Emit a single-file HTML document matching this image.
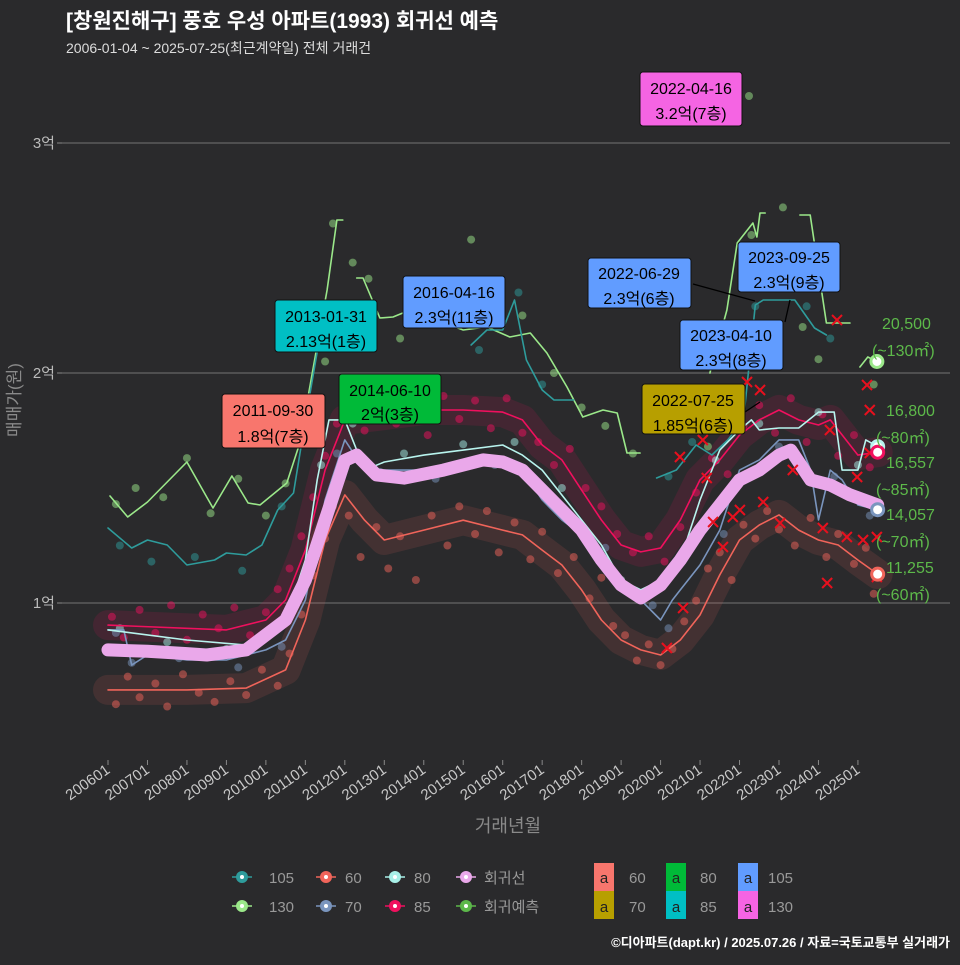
<!DOCTYPE html>
<html><head><meta charset="utf-8">
<style>
body{margin:0;background:#2a2a2c;}
svg text{font-family:"Liberation Sans","Noto Sans CJK KR",sans-serif;}
</style></head>
<body>
<svg id="chart" width="960" height="960" xmlns="http://www.w3.org/2000/svg">
<rect width="960" height="960" fill="#2a2a2c"/>
<text x="66" y="28" font-size="21" font-weight="bold" fill="#ffffff">[창원진해구] 풍호 우성 아파트(1993) 회귀선 예측</text>
<text x="66" y="53" font-size="14" fill="#dddddd">2006-01-04 ~ 2025-07-25(최근계약일) 전체 거래건</text>
<g id="grid"></g>
<g id="bands"></g>
<g id="points"></g>
<g id="lines"></g>
<g id="xmarks"></g>
<g id="axes"></g>
<text x="20" y="400" font-size="17" fill="#8a8a8a" text-anchor="middle" transform="rotate(-90 20 400)">매매가(원)</text>
<text x="508" y="832" font-size="18" fill="#8a8a8a" text-anchor="middle">거래년월</text>

<g font-size="16" text-anchor="middle" fill="#000">
<line x1="693" y1="284" x2="755" y2="301" stroke="#000" stroke-width="1.3"/>
<line x1="785" y1="322" x2="790" y2="300" stroke="#000" stroke-width="1.3"/>
<line x1="745" y1="412" x2="760" y2="402" stroke="#000" stroke-width="1.3"/>
<circle cx="749" cy="96" r="4" fill="#9be88a" opacity="0.5"/>
<g><rect x="640" y="72" width="102" height="54" rx="3" fill="#f564e3" stroke="#111"/><text x="691" y="94">2022-04-16</text><text x="691" y="119">3.2억(7층)</text></g>
<g><rect x="275" y="300" width="102" height="52" rx="3" fill="#00bfc4" stroke="#111"/><text x="326" y="322">2013-01-31</text><text x="326" y="347">2.13억(1층)</text></g>
<g><rect x="403" y="276" width="102" height="52" rx="3" fill="#619cff" stroke="#111"/><text x="454" y="298">2016-04-16</text><text x="454" y="323">2.3억(11층)</text></g>
<g><rect x="222" y="394" width="103" height="54" rx="3" fill="#f8766d" stroke="#111"/><text x="273" y="416">2011-09-30</text><text x="273" y="442">1.8억(7층)</text></g>
<g><rect x="339" y="374" width="102" height="50" rx="3" fill="#00ba38" stroke="#111"/><text x="390" y="396">2014-06-10</text><text x="390" y="420">2억(3층)</text></g>
<g><rect x="588" y="258" width="103" height="50" rx="3" fill="#619cff" stroke="#111"/><text x="639" y="279">2022-06-29</text><text x="639" y="304">2.3억(6층)</text></g>
<g><rect x="738" y="242" width="102" height="50" rx="3" fill="#619cff" stroke="#111"/><text x="789" y="263">2023-09-25</text><text x="789" y="288">2.3억(9층)</text></g>
<g><rect x="680" y="320" width="103" height="50" rx="3" fill="#619cff" stroke="#111"/><text x="731" y="341">2023-04-10</text><text x="731" y="366">2.3억(8층)</text></g>
<g><rect x="642" y="384" width="103" height="50" rx="3" fill="#b79f00" stroke="#111"/><text x="693" y="406">2022-07-25</text><text x="693" y="431">1.85억(6층)</text></g>
</g>

<g font-size="16" fill="#5db94a">
<text x="882" y="329">20,500</text><text x="872" y="356">(~130㎡)</text>
<text x="886" y="416">16,800</text><text x="876" y="443">(~80㎡)</text>
<text x="886" y="468">16,557</text><text x="876" y="495">(~85㎡)</text>
<text x="886" y="520">14,057</text><text x="876" y="547">(~70㎡)</text>
<text x="886" y="573">11,255</text><text x="876" y="600">(~60㎡)</text>
</g>

<g font-size="15" fill="#999">
<g id="legendSyms"></g>
<text x="269" y="883">105</text><text x="269" y="912">130</text>
<text x="345" y="883">60</text><text x="345" y="912">70</text>
<text x="414" y="883">80</text><text x="414" y="912">85</text>
<text x="484" y="883">회귀선</text><text x="484" y="912">회귀예측</text>
<rect x="594" y="863" width="20" height="28" fill="#f8766d"/><text x="604" y="883" text-anchor="middle" fill="#222">a</text><text x="629" y="883">60</text>
<rect x="594" y="891" width="20" height="28" fill="#b79f00"/><text x="604" y="912" text-anchor="middle" fill="#222">a</text><text x="629" y="912">70</text>
<rect x="666" y="863" width="20" height="28" fill="#00ba38"/><text x="676" y="883" text-anchor="middle" fill="#222">a</text><text x="700" y="883">80</text>
<rect x="666" y="891" width="20" height="28" fill="#00bfc4"/><text x="676" y="912" text-anchor="middle" fill="#222">a</text><text x="700" y="912">85</text>
<rect x="738" y="863" width="20" height="28" fill="#619cff"/><text x="748" y="883" text-anchor="middle" fill="#222">a</text><text x="768" y="883">105</text>
<rect x="738" y="891" width="20" height="28" fill="#f564e3"/><text x="748" y="912" text-anchor="middle" fill="#222">a</text><text x="768" y="912">130</text>
</g>
<text x="950" y="947" font-size="13" font-weight="bold" fill="#fff" text-anchor="end">©디아파트(dapt.kr) / 2025.07.26 / 자료=국토교통부 실거래가</text>
</svg>
<script>
const yTickValues=[10000,20000,30000];
const yTickLabels=["1억","2억","3억"];
const xTickYears=[2006,2007,2008,2009,2010,2011,2012,2013,2014,2015,2016,2017,2018,2019,2020,2021,2022,2023,2024,2025];
const xTickLabels=["200601","200701","200801","200901","201001","201101","201201","201301","201401","201501","201601","201701","201801","201901","202001","202101","202201","202301","202401","202501"];

const regT=[2006,2007,2008,2008.5,2009.5,2010.5,2011,2011.5,2012,2012.3,2012.8,2013.5,2014.5,2015.5,2016,2016.5,2017,2017.5,2018,2018.5,2019,2019.5,2020,2020.5,2021,2021.5,2022,2022.5,2023,2023.3,2023.8,2024.3,2024.8,2025.5];
const regV=[7960,7900,7800,7740,7960,9260,11000,13600,16200,16430,15570,15430,15780,16220,16130,15780,14910,14040,13170,11870,10780,10220,10780,11870,13170,14260,15350,15780,16430,16650,15350,15130,14700,14260];
const s60T=[2006,2008,2009.5,2010.5,2011,2011.5,2012,2012.5,2013,2014,2015,2016,2016.5,2017,2017.5,2018,2018.5,2019,2019.5,2020,2020.5,2021,2021.5,2022,2022.5,2023,2023.5,2024,2024.5,2025,2025.5];
const s60V=[6220,6220,6300,7090,9260,12740,14700,13600,12740,13170,13600,13170,12960,12300,11650,10570,9260,8390,7960,7740,8390,9480,11220,12740,13390,13830,13170,12740,12520,11870,11255];
const s85T=[2006,2009,2010,2010.5,2011,2011.5,2012,2013,2014,2015,2016,2016.5,2017,2017.5,2018,2018.5,2019,2019.5,2020,2020.5,2021,2021.5,2022,2022.5,2023,2023.5,2024,2024.3,2024.8,2025,2025.5];
const s85V=[9040,8830,9260,10130,12300,15780,17960,18170,18390,18390,18300,17960,16870,16220,14910,13610,12520,12220,12390,13610,15350,16220,17300,17960,18390,17960,17740,17960,16870,16430,16557];
const s80T=[2006,2008,2009.5,2010.5,2011,2011.3,2011.6,2012,2012.5,2013,2014,2015,2016,2016.5,2017,2018,2018.5,2019,2019.5,2020,2020.5,2021,2021.5,2022,2022.3,2022.5,2023,2023.5,2024,2024.4,2024.6,2025,2025.2,2025.5];
const s80V=[8830,8390,8170,9260,11870,15350,17960,17960,15780,16130,16430,16650,16870,16430,15780,13610,12520,10990,10570,10990,11870,14480,16650,17520,17960,17520,17610,17610,18300,18300,15780,15780,17090,16800];
const s70T=[2006,2006.4,2006.6,2007,2008,2009,2010,2010.5,2011,2011.5,2012,2012.5,2013,2014,2015,2016,2016.5,2017,2017.5,2018,2018.5,2019,2019.5,2020,2020.3,2020.5,2021,2021.5,2022,2022.5,2023,2023.5,2023.8,2024,2024.3,2024.6,2025,2025.5];
const s70V=[8830,8830,7300,7740,7520,7520,7960,8390,10130,14480,17090,15780,15780,15780,16220,16220,15780,14480,13610,12960,11870,10780,10130,9260,10130,10570,11650,13170,15780,16220,17090,17090,15780,13610,15780,15350,14260,14057];
const s105T=[2006,2006.6,2007,2007.5,2008,2008.7,2009,2009.5,2009.9,2010.3,2010.7,2011,2011.3,2012,2015.2,2015.6,2016,2016.3,2016.6,2017,2017.3,2017.8,2019,2019.9,2020.4,2020.9,2021.3,2021.7,2022.1,2022.4,2022.6,2023.4,2023.9,2024.2];
const s105V=[13261,12391,12739,12522,11652,11870,12174,12087,12522,14043,14783,17957,20913,null,21217,21870,21870,23174,20565,19261,18826,18826,null,15435,15783,16870,16435,17087,17957,22957,23174,23174,21957,21652];
const s130T=[2006.05,2006.5,2007,2008,2008.5,2008.66,2009.14,2009.55,2009.85,2010.53,2010.86,2011.55,2011.8,2011.95,2012.1,2012.3,2012.46,2012.89,2013.22,2013.47,2014.3,2015,2015.6,2016.18,2016.7,2017.12,2017.63,2018.03,2018.54,2018.9,2019.15,2019.48,2020,2021.25,2021.68,2021.94,2022.34,2022.44,2022.52,2022.65,2023,2023.53,2023.79,2024.2,2024.8,2025,2025.05,2025.25,2025.48];
const s130V=[14652,13739,14391,16131,14609,14130,15522,14348,14261,15217,16957,23609,26652,26652,null,24130,24130,22391,22435,22609,22304,21870,22000,21565,21739,20870,19391,18087,18391,18261,16522,16522,null,20000,22739,25652,26522,25913,26957,26957,null,26870,26870,22174,22174,null,20261,20696,20500];

const p60=[[2006.2,5600],[2006.5,6800],[2006.8,5900],[2007.2,6500],[2007.5,5500],[2007.9,6900],[2008.3,6100],[2008.7,5700],[2009.1,6600],[2009.5,6000],[2009.9,7100],[2010.3,6400],[2010.6,7800],[2010.9,9500],[2011.2,11200],[2011.5,12800],[2011.7,14200],[2012.1,13800],[2012.4,12000],[2012.8,13300],[2013.1,11500],[2013.4,12900],[2013.8,11000],[2014.2,13800],[2014.6,12500],[2014.9,14200],[2015.3,13000],[2015.6,14000],[2015.9,12200],[2016.3,13500],[2016.7,11900],[2017.0,13100],[2017.4,11300],[2017.8,12000],[2018.2,10200],[2018.5,11100],[2018.8,9000],[2019.1,8600],[2019.4,7500],[2019.7,8200],[2020.0,7300],[2020.3,8000],[2020.6,9200],[2020.9,10100],[2021.2,11500],[2021.5,12200],[2021.8,11000],[2022.1,13400],[2022.4,12800],[2022.7,14000],[2023.0,13200],[2023.4,12500],[2023.8,13700],[2024.2,12000],[2024.5,13000],[2024.9,11700],[2025.2,12400],[2025.4,10400]];
const p85=[[2006.1,9400],[2006.4,8500],[2006.8,9700],[2007.2,8700],[2007.6,9900],[2008.0,8400],[2008.4,9500],[2008.8,8900],[2009.2,9800],[2009.6,8600],[2010.0,9600],[2010.3,10600],[2010.6,11500],[2010.9,12900],[2011.2,14600],[2011.5,16400],[2011.8,17800],[2012.1,18900],[2012.5,17500],[2012.9,19200],[2013.3,17800],[2013.7,18600],[2014.1,17300],[2014.5,19000],[2014.9,18000],[2015.3,18800],[2015.7,17600],[2016.1,18900],[2016.5,17400],[2016.9,17000],[2017.3,16000],[2017.7,16700],[2018.1,15000],[2018.5,14200],[2018.9,13000],[2019.3,12200],[2019.7,12900],[2020.1,11800],[2020.5,13300],[2020.9,14800],[2021.3,16300],[2021.7,15600],[2022.1,17700],[2022.5,18600],[2022.9,17400],[2023.3,18900],[2023.7,17000],[2024.1,18200],[2024.5,16400],[2024.9,17300],[2025.3,15900]];
const p80=[[2006.3,8900],[2007.5,8300],[2009.0,8000],[2011.4,16000],[2012.2,17800],[2013.5,16500],[2015.0,16900],[2016.3,17000],[2017.5,15000],[2019.0,11000],[2021.4,16200],[2022.5,17800],[2024.0,18300],[2025.0,16000]];
const p70=[[2006.2,8700],[2006.6,7400],[2007.8,7600],[2009.3,7200],[2010.4,8100],[2011.8,16500],[2012.9,15700],[2014.3,15400],[2015.8,16000],[2017.2,14700],[2018.6,12400],[2019.8,9900],[2020.2,8900],[2021.6,13000],[2023.0,16800],[2024.4,15500],[2025.3,13800]];
const p105=[[2006.3,12500],[2007.1,11800],[2008.2,12000],[2009.4,11400],[2010.4,14200],[2011.0,17000],[2011.4,18000],[2015.4,21000],[2016.4,23500],[2017.0,19500],[2020.2,15500],[2020.8,17000],[2022.4,22900],[2023.7,22900],[2024.3,21500]];
const p130=[[2006.2,14300],[2006.7,15000],[2007.4,14600],[2008.0,16300],[2008.6,13900],[2009.3,15400],[2010.0,13800],[2010.5,15200],[2011.0,18000],[2011.5,20500],[2011.7,26500],[2012.2,24800],[2012.6,24100],[2013.4,21500],[2014.1,22600],[2014.7,24000],[2015.2,25800],[2015.8,22900],[2016.5,22500],[2017.3,20000],[2018.0,18500],[2018.6,17700],[2019.3,16500],[2020.6,17600],[2021.2,16800],[2021.8,21500],[2022.3,26000],[2023.1,27200],[2023.6,22000],[2024.0,20600],[2025.4,19500]];
const predX=[[2020.49,16348],[2021.07,17087],[2021.17,15435],[2022.19,19609],[2022.52,19261],[2021.33,13522],[2021.83,13739],[2022.01,14043],[2021.58,12435],[2020.57,9783],[2020.16,8043],[2022.6,14391],[2023.35,15783],[2024.29,17522],[2024.11,13261],[2024.72,12870],[2025.13,12739],[2025.48,12870],[2025.3,16522],[2025.3,18391],[2025.23,19479],[2024.47,22304],[2024.22,10870],[2025.48,11130],[2023.03,13478],[2024.98,15478]];

const NS="http://www.w3.org/2000/svg";
function X(t){return 108+(t-2006)*39.47;}
function Y(v){return 603-(v-10000)*0.023;}
function mk(tag,attrs,parent){const e=document.createElementNS(NS,tag);for(const k in attrs)e.setAttribute(k,attrs[k]);parent.appendChild(e);return e;}
const grid=document.getElementById('grid'),axes=document.getElementById('axes');
yTickValues.forEach((v,i)=>{
  const g=mk('line',{x1:62,x2:950,y1:Y(v),y2:Y(v),stroke:'#666','stroke-width':1.2},grid);
  
  
  const tk=mk('line',{x1:57,x2:62,y1:Y(v),y2:Y(v),stroke:'#888'},axes);
  
  
  const t=mk('text',{x:55,y:Y(v)+5,'font-size':15,fill:'#bbb','text-anchor':'end'},axes);
  t.textContent=yTickLabels[i];
  
  
});
xTickYears.forEach((yr,i)=>{
  const x=X(yr);
  const tk=mk('line',{x1:x,x2:x,y1:760,y2:765,stroke:'#888'},axes);
  
  
  const t=mk('text',{x:x+3,y:772,'font-size':15,fill:'#c8c8c8','text-anchor':'end',transform:`rotate(-35 ${x+3} 772)`},axes);
  t.textContent=xTickLabels[i];
  
  
});
function pathD(T,V){let d='',pen=false;for(let i=0;i<T.length;i++){if(V[i]==null){pen=false;continue;}d+=(pen?'L':'M')+X(T[i]).toFixed(1)+','+Y(V[i]).toFixed(1);pen=true;}return d;}
const bands=document.getElementById('bands');
[[s85T,s85V,'#f0105e',30],[s60T,s60V,'#f0645a',30]].forEach(b=>{
  const p=mk('path',{d:pathD(b[0],b[1]),fill:'none',stroke:b[2],'stroke-width':b[3],opacity:0.13,'stroke-linejoin':'round','stroke-linecap':'round'},bands);
  
  
});
const pts=document.getElementById('points');
[[p130,'#9be88a'],[p105,'#2e9c9c'],[p60,'#f0645a'],[p85,'#f0105e'],[p70,'#7a95be'],[p80,'#a8f0e8']].forEach(s=>{
  s[0].forEach(p=>{
    const c=mk('circle',{cx:X(p[0]),cy:Y(p[1]),r:4,fill:s[1],opacity:0.5},pts);
    
    
  });
});
const lines=document.getElementById('lines');
[[s130T,s130V,'#9be88a',1.6],[s105T,s105V,'#2e9c9c',1.6],[s60T,s60V,'#f0645a',1.6],[s85T,s85V,'#f0105e',1.6],[s70T,s70V,'#7a95be',1.6],[s80T,s80V,'#b8f4ee',1.6],[regT,regV,'#eaa8ea',13]].forEach(s=>{
  const p=mk('path',{d:pathD(s[0],s[1]),fill:'none',stroke:s[2],'stroke-width':s[3],'stroke-linejoin':'round','stroke-linecap':'round'},lines);
  
  
});
const xm=document.getElementById('xmarks');
predX.forEach(p=>{
  const x=X(p[0]),y=Y(p[1]);
  const m=mk('path',{d:`M${x-5},${y-5}L${x+5},${y+5}M${x-5},${y+5}L${x+5},${y-5}`,stroke:'#e8101e','stroke-width':2},xm);
  
  
});
[[s130T,s130V,'#9be88a'],[s80T,s80V,'#b8f4ee'],[s85T,s85V,'#f0105e'],[s70T,s70V,'#7a95be'],[s60T,s60V,'#f0645a']].forEach(s=>{
  const n=s[0].length-1;
  const c=mk('circle',{cx:X(s[0][n]),cy:Y(s[1][n]),r:6,fill:'#fff',stroke:s[2],'stroke-width':3},xm);
  
  
});
const ls=document.getElementById('legendSyms');
[[242,877,'#2e9c9c'],[242,906,'#9be88a'],[326,877,'#f0645a'],[326,906,'#7a95be'],[395,877,'#a8f0e8'],[395,906,'#f0105e'],[466,877,'#eaa8ea'],[466,906,'#5cb84a']].forEach(s=>{
  mk('line',{x1:s[0]-10,x2:s[0]+10,y1:s[1],y2:s[1],stroke:s[2],'stroke-width':1.5},ls);
  const c=mk('circle',{cx:s[0],cy:s[1],r:6,fill:s[2]},ls);
  
  
  mk('circle',{cx:s[0],cy:s[1],r:2,fill:'#fff'},ls);
});
</script>
</body></html>
